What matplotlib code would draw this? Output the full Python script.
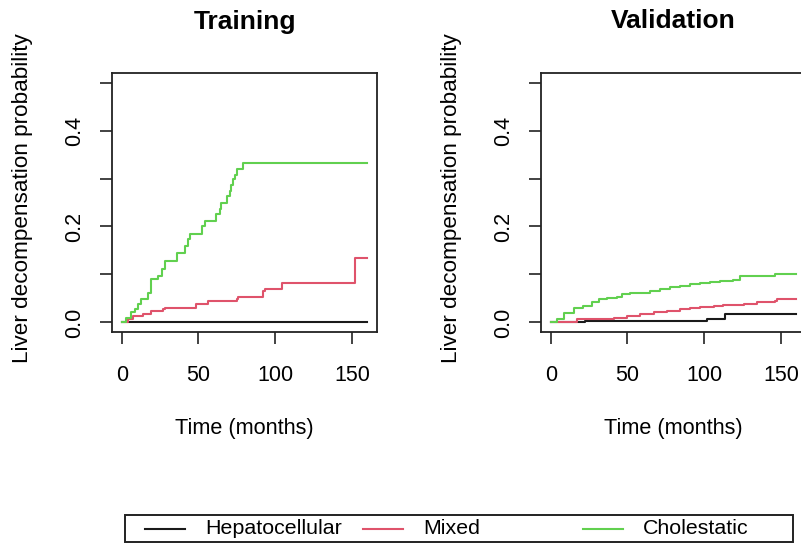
import matplotlib
matplotlib.use("Agg")
from matplotlib import pyplot as plt
from matplotlib.lines import Line2D
from matplotlib.patches import Rectangle

plt.rcParams['font.family'] = ['Liberation Sans', 'DejaVu Sans']

groups = ['Hepatocellular', 'Mixed', 'Cholestatic']
colors = ['#1a1a1a', '#DF536B', '#61D04F']

# training cumulative incidence (step, post)
train_hep_t = [0, 160]
train_hep_p = [0, 0]
train_mix_t = [0, 4.1, 7.4, 13.9, 19.3, 27.0, 28.0, 48.7, 56.3, 74.8, 75.9,
               92.2, 93.3, 104.7, 152.0, 160]
train_mix_p = [0, .007, .014, .017, .024, .028, .031, .038, .045, .048, .052,
               .066, .069, .083, .135, .135]
train_cho_t = [0, 3.0, 6.3, 8.5, 10.7, 12.8, 17.2, 19.3, 23.7, 25.9, 28.0,
               35.7, 41.1, 43.3, 44.3, 52.0, 54.1, 61.7, 63.9, 65.0, 68.3,
               70.4, 71.5, 72.6, 73.7, 74.8, 78.7, 160]
train_cho_p = [0, .010, .021, .028, .038, .048, .062, .090, .097, .111, .128,
               .145, .159, .173, .184, .201, .211, .225, .236, .249, .263,
               .274, .287, .298, .308, .319, .333, .333]

# validation
val_hep_t = [0, 22.4, 101.7, 113.7, 160]
val_hep_p = [0, .002, .007, .017, .017]
val_mix_t = [0, 17.0, 40.9, 49.6, 58.3, 67.0, 75.7, 84.3, 90.9, 97.4, 106.1,
             112.6, 125.7, 134.3, 146.3, 147.4, 160]
val_mix_p = [0, .008, .010, .014, .017, .021, .024, .028, .030, .033, .035,
             .037, .038, .042, .045, .048, .048]
val_cho_t = [0, 3.9, 8.3, 14.8, 21.3, 26.7, 31.1, 36.5, 43.0, 46.3, 51.7,
             58.3, 64.8, 71.3, 77.8, 84.3, 90.9, 97.4, 103.9, 110.4, 119.1,
             123.5, 146.3, 160]
val_cho_p = [0, .008, .019, .029, .035, .043, .048, .050, .054, .059, .061,
             .062, .066, .069, .073, .076, .080, .083, .085, .087, .089,
             .096, .100, .100]

x_ticks = [0, 50, 100, 150]
y_ticks = [0, 0.1, 0.2, 0.3, 0.4, 0.5]
y_labels = ['0.0', '', '0.2', '', '0.4', '']

W, H = 801, 546


def fx(px):
    return px / W


def fy(py):
    return 1 - py / H


fig = plt.figure(figsize=(W / 100, H / 100), dpi=100)

panels = [
    ('Training', 112, [(train_hep_t, train_hep_p), (train_mix_t, train_mix_p),
                       (train_cho_t, train_cho_p)]),
    ('Validation', 541, [(val_hep_t, val_hep_p), (val_mix_t, val_mix_p),
                         (val_cho_t, val_cho_p)]),
]

for title, left, series in panels:
    ax = fig.add_axes([fx(left), fy(332), 265 / W, (332 - 73) / H])
    for (t, p), c in zip(series, colors):
        ax.step(t, p, where='post', color=c, lw=1.5)
    ax.set_xlim(-6.4, 166.4)
    ax.set_ylim(-0.02, 0.52)
    ax.set_xticks(x_ticks)
    ax.set_yticks(y_ticks)
    ax.set_yticklabels(y_labels, rotation=90, va='center')
    ax.tick_params(length=8.6, width=1.2, labelsize=15.5, color='#222222')
    ax.tick_params(axis='x', pad=15.0)
    ax.tick_params(axis='y', pad=11.0)
    for s in ax.spines.values():
        s.set_linewidth(1.3)
        s.set_color('#222222')
    cx = left + 132.5
    fig.text(fx(cx), fy(28.5), title, ha='center', va='baseline',
             fontsize=19, fontweight='bold')
    fig.text(fx(cx), fy(434), 'Time (months)', ha='center', va='baseline',
             fontsize=15.6)
    fig.text(fx(left - 84), fy(198), 'Liver decompensation probability',
             ha='center', va='baseline', rotation=90, rotation_mode='anchor',
             fontsize=16.2)

# legend drawn along the bottom, R style
fig.patches.append(Rectangle((fx(125), fy(542)), (793 - 125) / W, 27 / H,
                             transform=fig.transFigure, fill=False,
                             lw=1.4, edgecolor='#222222'))
line_x = [145, 363, 583]
for name, c, lx in zip(groups, colors, line_x):
    fig.lines.append(Line2D([fx(lx), fx(lx + 40)], [fy(528.5), fy(528.5)],
                            transform=fig.transFigure, color=c, lw=1.5))
    fig.text(fx(lx + 60), fy(529), name, ha='left', va='center',
             fontsize=15.4)

fig.savefig('out.png', dpi=100)
